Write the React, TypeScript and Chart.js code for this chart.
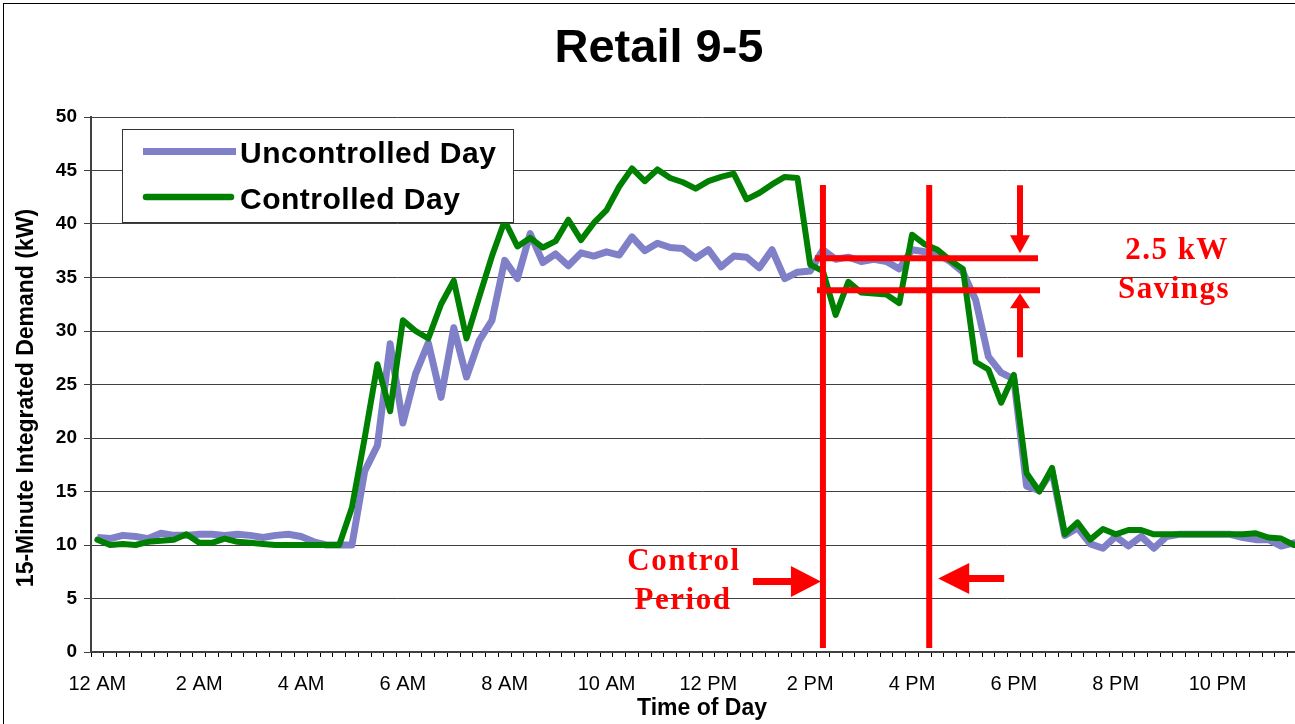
import React, { useEffect, useRef } from 'react';
import { Chart, registerables } from 'chart.js';

Chart.register(...registerables);

// 15-minute slots over one day (96 categories)
const TIME_SLOTS: string[] = Array.from({ length: 96 }, (_, i) => {
  const h = Math.floor(i / 4);
  const m = (i % 4) * 15;
  const h12 = h % 12 === 0 ? 12 : h % 12;
  return `${h12}:${m === 0 ? '00' : m} ${h < 12 ? 'AM' : 'PM'}`;
});

const TICK_LABELS: string[] = ['12 AM', '2 AM', '4 AM', '6 AM', '8 AM', '10 AM', '12 PM', '2 PM', '4 PM', '6 PM', '8 PM', '10 PM'];

const UNCONTROLLED: number[] = [
  10.7, 10.6, 10.9, 10.8, 10.6, 11.1, 10.9, 10.9, 11.0, 11.0,
  10.9, 11.0, 10.9, 10.7, 10.9, 11.0, 10.8, 10.3, 10.0, 10.0,
  10.0, 16.9, 19.3, 28.8, 21.4, 26.0, 28.9, 23.8, 30.3, 25.7,
  29.1, 31.0, 36.6, 34.9, 39.1, 36.4, 37.2, 36.1, 37.3, 37.0,
  37.4, 37.1, 38.8, 37.5, 38.2, 37.8, 37.7, 36.8, 37.6, 36.0,
  37.0, 36.9, 35.9, 37.6, 34.9, 35.5, 35.6, 37.6, 36.7, 36.9,
  36.5, 36.7, 36.5, 35.8, 37.6, 37.4, 37.2, 36.5, 35.5, 32.9,
  27.6, 26.1, 25.5, 15.5, 15.1, 16.9, 10.9, 11.6, 10.1, 9.7,
  10.8, 9.9, 10.8, 9.7, 10.8, 11.0, 11.0, 11.0, 11.0, 11.0,
  10.7, 10.5, 10.5, 9.9, 10.2, 10.0,
];

const CONTROLLED: number[] = [
  10.5, 10.0, 10.1, 10.0, 10.3, 10.4, 10.5, 11.0, 10.2, 10.2,
  10.6, 10.3, 10.2, 10.1, 10.0, 10.0, 10.0, 10.0, 10.0, 10.0,
  13.5, 20.0, 26.9, 22.5, 31.0, 30.0, 29.3, 32.5, 34.7, 29.3,
  33.2, 37.0, 40.3, 37.9, 38.7, 37.8, 38.4, 40.4, 38.5, 40.1,
  41.3, 43.5, 45.2, 44.0, 45.1, 44.3, 43.9, 43.3, 44.0, 44.4,
  44.7, 42.3, 42.9, 43.7, 44.4, 44.3, 36.2, 35.6, 31.5, 34.6,
  33.6, 33.5, 33.4, 32.6, 39.0, 38.1, 37.6, 36.6, 35.8, 27.1,
  26.4, 23.3, 25.9, 16.7, 15.0, 17.2, 11.0, 12.1, 10.5, 11.5,
  11.0, 11.4, 11.4, 11.0, 11.0, 11.0, 11.0, 11.0, 11.0, 11.0,
  11.0, 11.1, 10.7, 10.6, 10.0, 10.0,
];

const SERIES_NAMES: string[] = ['Uncontrolled Day', 'Controlled Day'];
const SERIES_COLORS: string[] = ['#8080c8', '#008000'];

// annotation anchors (category index / kW)
const CONTROL_START = 57.0;
const CONTROL_END = 65.35;
const SAVINGS_HIGH = 36.8;
const SAVINGS_LOW = 33.8;

const SANS = '"Liberation Sans", Arial, Helvetica, sans-serif';
const SERIF = '"Liberation Serif", "Times New Roman", serif';
const RED = '#ff0000';

function arrow(ctx: CanvasRenderingContext2D, dir: 'left' | 'right' | 'up' | 'down', tipX: number, tipY: number, headLen: number, headHalf: number, shaftLen: number, shaftW: number) {
  ctx.save();
  ctx.fillStyle = RED;
  ctx.strokeStyle = RED;
  ctx.lineWidth = shaftW;
  ctx.lineCap = 'butt';
  const dx = dir === 'left' ? -1 : dir === 'right' ? 1 : 0;
  const dy = dir === 'up' ? -1 : dir === 'down' ? 1 : 0;
  const baseX = tipX - dx * headLen;
  const baseY = tipY - dy * headLen;
  ctx.beginPath();
  ctx.moveTo(baseX + dx, baseY + dy);
  ctx.lineTo(baseX - dx * shaftLen, baseY - dy * shaftLen);
  ctx.stroke();
  ctx.beginPath();
  ctx.moveTo(tipX, tipY);
  ctx.lineTo(baseX + dy * headHalf, baseY + dx * headHalf);
  ctx.lineTo(baseX - dy * headHalf, baseY - dx * headHalf);
  ctx.closePath();
  ctx.fill();
  ctx.restore();
}

const decorPlugin = {
  id: 'decor',
  beforeDraw(chart: any) {
    const ctx = chart.ctx as CanvasRenderingContext2D;
    ctx.save();
    ctx.fillStyle = '#ffffff';
    ctx.fillRect(0, 0, chart.width, chart.height);
    ctx.restore();
  },
  afterDraw(chart: any) {
    const ctx = chart.ctx as CanvasRenderingContext2D;
    const xs = chart.scales.x;
    const ys = chart.scales.y;
    const step = xs.getPixelForValue(1) - xs.getPixelForValue(0);
    const xAt = (v: number) => xs.getPixelForValue(0) + v * step;

    ctx.save();
    // frame
    ctx.strokeStyle = '#000';
    ctx.lineWidth = 1;
    ctx.strokeRect(3.5, 3.5, chart.width + 20, chart.height + 20);

    // title
    ctx.fillStyle = '#000';
    ctx.font = `bold 47px ${SANS}`;
    ctx.textAlign = 'center';
    ctx.textBaseline = 'alphabetic';
    ctx.fillText('Retail 9-5', 659, 62);

    // y axis title
    ctx.save();
    ctx.translate(33, 398);
    ctx.rotate(-Math.PI / 2);
    ctx.font = `bold 23px ${SANS}`;
    ctx.textAlign = 'center';
    ctx.fillText('15-Minute Integrated Demand (kW)', 0, 0);
    ctx.restore();

    // legend
    ctx.fillStyle = '#fff';
    ctx.fillRect(122.5, 129.5, 391, 93);
    ctx.strokeStyle = '#333';
    ctx.lineWidth = 1;
    ctx.strokeRect(122.5, 129.5, 391, 93);
    ctx.lineWidth = 7;
    ctx.strokeStyle = SERIES_COLORS[0];
    ctx.lineCap = 'butt';
    ctx.beginPath();
    ctx.moveTo(143, 151.5);
    ctx.lineTo(236, 151.5);
    ctx.stroke();
    ctx.strokeStyle = SERIES_COLORS[1];
    ctx.lineCap = 'round';
    ctx.lineWidth = 6.5;
    ctx.beginPath();
    ctx.moveTo(146, 197);
    ctx.lineTo(231, 197);
    ctx.stroke();
    ctx.fillStyle = '#000';
    ctx.font = `bold 30px ${SANS}`;
    ctx.textAlign = 'left';
    (ctx as any).letterSpacing = '0.5px';
    ctx.fillText(SERIES_NAMES[0], 240, 163);
    ctx.fillText(SERIES_NAMES[1], 240, 209);
    (ctx as any).letterSpacing = '0px';

    // red annotations
    ctx.strokeStyle = RED;
    ctx.fillStyle = RED;
    ctx.lineCap = 'butt';
    ctx.lineWidth = 6;
    const x1 = xAt(CONTROL_START);
    const x2 = xAt(CONTROL_END);
    ctx.beginPath();
    ctx.moveTo(x1, 185);
    ctx.lineTo(x1, 648);
    ctx.moveTo(x2, 185);
    ctx.lineTo(x2, 648);
    ctx.stroke();
    const yH = ys.getPixelForValue(SAVINGS_HIGH);
    const yL = ys.getPixelForValue(SAVINGS_LOW);
    ctx.beginPath();
    ctx.moveTo(815, yH);
    ctx.lineTo(1038, yH);
    ctx.moveTo(817, yL);
    ctx.lineTo(1040, yL);
    ctx.stroke();

    arrow(ctx, 'down', 1020, yH - 5, 18, 10, 50, 6);
    arrow(ctx, 'up', 1020, yL + 3, 15, 10, 49, 6);
    arrow(ctx, 'right', x1 - 2, 581.5, 30, 15.5, 38, 7);
    arrow(ctx, 'left', x2 + 9, 578.5, 31, 15.5, 35, 7);

    ctx.font = `bold 31px ${SERIF}`;
    ctx.textAlign = 'center';
    (ctx as any).letterSpacing = '1.5px';
    ctx.fillText('2.5 kW', 1177, 259);
    ctx.fillText('Savings', 1174, 298);
    ctx.fillText('Control', 684, 570);
    ctx.fillText('Period', 683, 609);
    (ctx as any).letterSpacing = '0px';
    ctx.restore();
  },
};

export default function App() {
  const canvasRef = useRef<HTMLCanvasElement | null>(null);

  useEffect(() => {
    const canvas = canvasRef.current;
    if (!canvas) return;
    const chart = new Chart(canvas, {
      type: 'line',
      data: {
        labels: TIME_SLOTS,
        datasets: [
          {
            label: SERIES_NAMES[0],
            data: UNCONTROLLED,
            borderColor: SERIES_COLORS[0],
            backgroundColor: SERIES_COLORS[0],
            borderWidth: 7,
            pointRadius: 0,
            tension: 0,
            borderJoinStyle: 'round',
            order: 1,
          },
          {
            label: SERIES_NAMES[1],
            data: CONTROLLED,
            borderColor: SERIES_COLORS[1],
            backgroundColor: SERIES_COLORS[1],
            borderWidth: 6,
            pointRadius: 0,
            tension: 0,
            borderJoinStyle: 'round',
            borderCapStyle: 'round',
            order: 0,
          },
        ],
      },
      options: {
        responsive: false,
        animation: false,
        devicePixelRatio: 1,
        layout: { padding: { left: 10, right: 17, top: 117, bottom: 0 } },
        plugins: {
          legend: { display: false },
          tooltip: { enabled: false },
          title: { display: false },
        },
        scales: {
          x: {
            type: 'category',
            offset: true,
            grid: { offset: true, drawOnChartArea: false, drawTicks: true, tickLength: 5, color: '#000', lineWidth: 1 },
            border: { display: true, color: '#404040', width: 2 },
            ticks: {
              autoSkip: false,
              maxRotation: 0,
              minRotation: 0,
              padding: 15,
              color: '#000',
              font: { family: SANS, size: 20 },
              callback: (_v: any, i: number) => (i % 8 === 0 ? TICK_LABELS[i / 8] : ''),
            },
            title: {
              display: true,
              text: 'Time of Day',
              color: '#000',
              font: { family: SANS, size: 23, weight: 'bold' },
              padding: { top: 0, bottom: 2 },
            },
            afterFit: (s: any) => { s.height = 72; },
          },
          y: {
            min: 0,
            max: 50,
            ticks: { stepSize: 5, padding: 7, color: '#000', font: { family: SANS, size: 19, weight: 'bold' } },
            grid: { color: '#404040', lineWidth: 1, tickLength: 7, drawTicks: true },
            border: { display: true, color: '#404040', width: 2 },
            afterFit: (s: any) => { s.width = 81; },
          },
        },
      } as any,
      plugins: [decorPlugin],
    });
    return () => chart.destroy();
  }, []);

  return (
    <div style={{ position: 'fixed', left: 0, top: 0, width: 1295, height: 724, overflow: 'hidden', background: '#fff' }}>
      <canvas ref={canvasRef} width={1330} height={724} style={{ display: 'block' }} />
    </div>
  );
}
